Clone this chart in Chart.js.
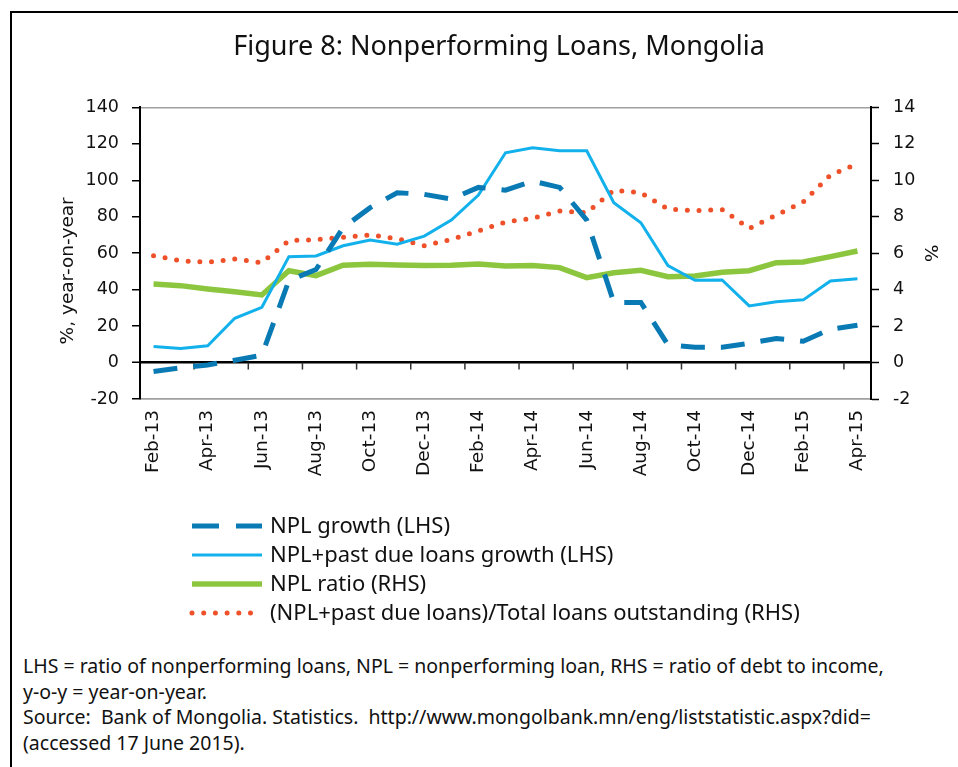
<!DOCTYPE html>
<html>
<head>
<meta charset="utf-8">
<script src="https://cdn.jsdelivr.net/npm/chart.js@4"></script>
<style>
  body { margin: 0; background: #fff; width: 958px; height: 767px; overflow: hidden; position: relative; }
  #frame { position: absolute; left: 10px; top: 11px; width: 1000px; height: 800px; border: 2px solid #000; }
  #chart { position: absolute; left: 0; top: 0; }
  #notes { position: absolute; left: 23px; top: 653px; font-family: "Noto Sans"; font-size: 19.5px; line-height: 25.7px; color: #111; white-space: nowrap; }
</style>
</head>
<body>
<div id="frame"></div>
<canvas id="chart" width="958" height="640"></canvas>
<div id="notes">LHS = ratio of nonperforming loans, NPL = nonperforming loan, RHS = ratio of debt to income,<br>y-o-y = year-on-year.<br>Source:&nbsp; Bank of Mongolia. Statistics.&nbsp; http://www.mongolbank.mn/eng/liststatistic.aspx?did=<br>(accessed 17 June 2015).</div>
<script>
const months = ['Feb-13','Mar-13','Apr-13','May-13','Jun-13','Jul-13','Aug-13','Sep-13','Oct-13','Nov-13','Dec-13',
  'Jan-14','Feb-14','Mar-14','Apr-14','May-14','Jun-14','Jul-14','Aug-14','Sep-14','Oct-14','Nov-14','Dec-14',
  'Jan-15','Feb-15','Mar-15','Apr-15'];

// LHS, % year-on-year
const nplGrowth = [-4.9, -2.9, -1.3, 1.3, 4, 45, 51, 74, 85, 93.2, 92.3, 89.7, 96.1, 94.6, 99.6, 96.1, 78.2, 33, 33, 9.7, 8.4, 8.4, 10.6, 13.2, 11.7, 18.3, 20.5];
const nplPastGrowth = [8.8, 7.7, 9.2, 24.3, 30.3, 58.1, 58.5, 64.1, 67.2, 64.9, 69.4, 78.2, 91.9, 115.1, 117.8, 116.2, 116.2, 87.7, 76.7, 53.2, 45.1, 45.3, 31.1, 33.4, 34.4, 44.8, 46.0];

// RHS, %
const nplRatio = [4.31, 4.22, 4.04, 3.89, 3.71, 5.04, 4.77, 5.34, 5.39, 5.35, 5.32, 5.34, 5.41, 5.30, 5.32, 5.21, 4.66, 4.93, 5.06, 4.71, 4.75, 4.95, 5.04, 5.48, 5.52, 5.81, 6.12];
const pastDueRatio = [5.86, 5.59, 5.50, 5.68, 5.48, 6.69, 6.74, 6.87, 7.0, 6.80, 6.41, 6.76, 7.22, 7.71, 7.91, 8.31, 8.22, 9.46, 9.32, 8.42, 8.33, 8.40, 7.36, 8.09, 8.82, 10.28, 10.9];

const seriesNames = ['NPL growth (LHS)', 'NPL+past due loans growth (LHS)', 'NPL ratio (RHS)', '(NPL+past due loans)/Total loans outstanding (RHS)'];

Chart.defaults.font.family = 'DejaVu Sans';
Chart.defaults.color = '#111';

// small tick marks on the zero line, every second month
const zeroTicks = {
  id: 'zeroTicks',
  beforeDatasetsDraw(chart) {
    const x = chart.scales.x, y = chart.scales.y;
    const y0 = y.getPixelForValue(0);
    const ctx = chart.ctx;
    ctx.save();
    ctx.strokeStyle = '#333';
    ctx.lineWidth = 1.5;
    for (let i = 2; i < months.length; i += 2) {
      const xb = (x.getPixelForValue(i - 1) + x.getPixelForValue(i)) / 2;
      ctx.beginPath();
      ctx.moveTo(xb, y0);
      ctx.lineTo(xb, y0 + 7);
      ctx.stroke();
    }
    ctx.restore();
  }
};

// one legend item per row, left aligned
const legendRows = {
  id: 'legendRows',
  afterDraw(chart) {
    const ctx = chart.ctx;
    ctx.save();
    chart.data.datasets.forEach((ds, k) => {
      const yy = 526 + k * 29;
      ctx.strokeStyle = ds.borderColor;
      ctx.lineWidth = ds.borderWidth;
      ctx.lineCap = ds.borderCapStyle || 'butt';
      ctx.setLineDash(ds.legendDash || ds.borderDash || []);
      ctx.beginPath();
      ctx.moveTo(192, yy);
      ctx.lineTo(262, yy);
      ctx.stroke();
      ctx.setLineDash([]);
      ctx.fillStyle = '#111';
      ctx.font = '22px "Noto Sans"';
      ctx.textBaseline = 'middle';
      ctx.fillText(ds.label, 270, yy + 1);
    });
    ctx.restore();
  }
};

const ctx = document.getElementById('chart').getContext('2d');
const myChart = new Chart(ctx, {
  type: 'line',
  data: {
    labels: months,
    datasets: [{
      label: seriesNames[0],
      data: nplGrowth,
      yAxisID: 'y',
      borderColor: '#0a7ab4',
      borderWidth: 5,
      borderDash: [24, 16],
      legendDash: [27, 17],
      pointRadius: 0
    }, {
      label: seriesNames[1],
      data: nplPastGrowth,
      yAxisID: 'y',
      borderColor: '#12b1ec',
      borderWidth: 3,
      pointRadius: 0
    }, {
      label: seriesNames[2],
      data: nplRatio,
      yAxisID: 'y2',
      borderColor: '#8cc63f',
      borderWidth: 5.5,
      pointRadius: 0
    }, {
      label: seriesNames[3],
      data: pastDueRatio,
      yAxisID: 'y2',
      borderColor: '#ee5129',
      borderWidth: 5,
      borderDash: [0, 11.7],
      borderCapStyle: 'round',
      pointRadius: 0
    }]
  },
  options: {
    responsive: false,
    animation: false,
    devicePixelRatio: 1,
    layout: { padding: { left: 50, right: 10, top: 0, bottom: 141 } },
    plugins: {
      legend: { display: false },
      tooltip: { enabled: false },
      title: {
        display: true,
        text: 'Figure 8: Nonperforming Loans, Mongolia',
        font: { family: 'Noto Sans', size: 27, weight: 'normal' },
        color: '#111',
        padding: { top: 31, bottom: 44 }
      }
    },
    scales: {
      x: {
        offset: true,
        grid: { display: false, drawTicks: false, offset: true },
        border: { display: true, color: '#a0a0a0', width: 1.5 },
        ticks: {
          autoSkip: false,
          minRotation: 90,
          maxRotation: 90,
          padding: 11,
          font: { size: 18.5 },
          callback: function (val, i) { return i % 2 === 0 ? this.getLabelForValue(val) : null; }
        },
        afterFit: (scale) => { scale.height = 100; }
      },
      y: {
        position: 'left',
        min: -20,
        max: 140,
        ticks: { stepSize: 20, padding: 13, font: { size: 17.5 } },
        grid: {
          tickLength: 8,
          tickColor: '#000',
          tickWidth: 1.5,
          color: (c) => c.tick.value === 0 ? '#000' : (c.tick.value === 140 || c.tick.value === -20 ? '#a0a0a0' : 'rgba(0,0,0,0)'),
          lineWidth: (c) => c.tick.value === 0 ? 2.5 : 1.5
        },
        border: { color: '#000', width: 2 },
        // trailing spaces push the title a bit lower, as in the original
        title: { display: true, text: '%, year-on-year      ', font: { size: 18.5 }, padding: { top: 7, bottom: 0 } },
        afterFit: (scale) => { scale.width = 90; }
      },
      y2: {
        position: 'right',
        min: -2,
        max: 14,
        ticks: { stepSize: 2, padding: 14, font: { size: 17.5 } },
        grid: { drawOnChartArea: false, tickLength: 8, tickColor: '#000', tickWidth: 1.5 },
        border: { color: '#000', width: 2 },
        title: { display: true, text: '%', font: { size: 18.5 }, padding: { top: 7, bottom: 0 } },
        afterFit: (scale) => { scale.width = 77; }
      }
    }
  },
  plugins: [zeroTicks, legendRows]
});
</script>
</body>
</html>
